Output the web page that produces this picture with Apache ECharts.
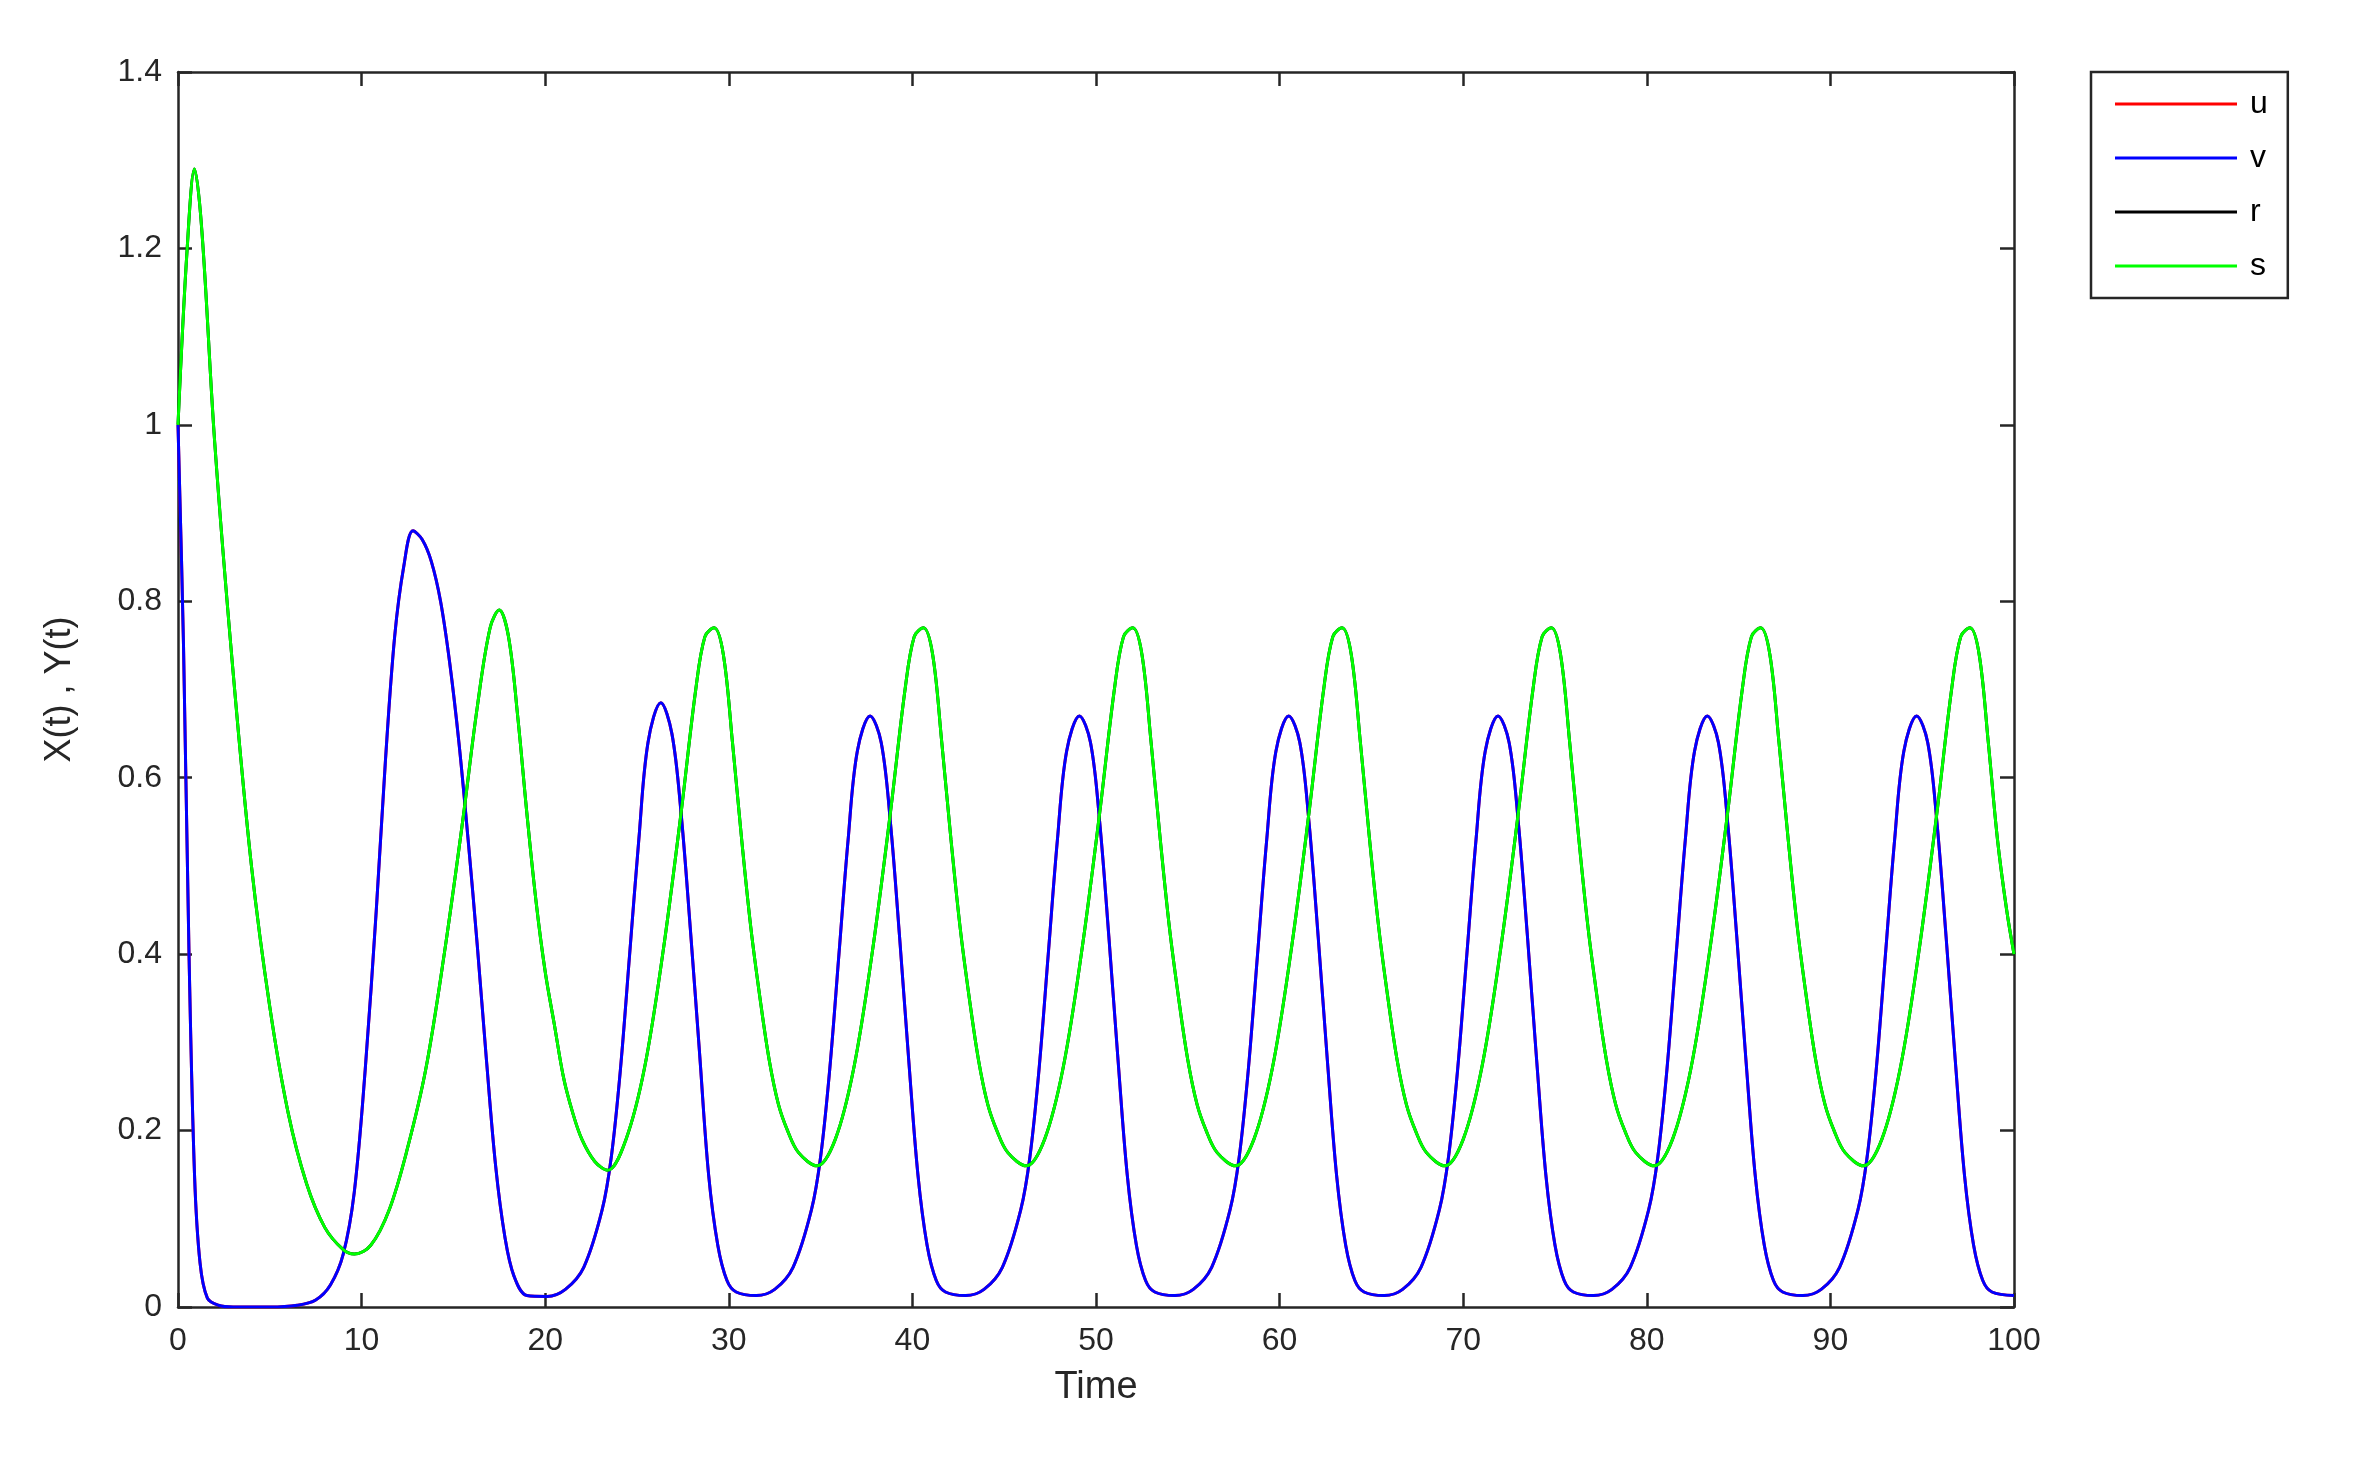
<!DOCTYPE html>
<html>
<head>
<meta charset="utf-8">
<script src="https://cdn.jsdelivr.net/npm/echarts@6/dist/echarts.min.js"></script>
<style>html,body{margin:0;background:#fff}#chart{width:2361px;height:1476px}</style>
</head>
<body>
<div id="chart"></div>
<script>
// values
const vTime = [0,0.3,0.6,0.9,1.2,1.6,2.2,3,5,6.5,7.5,8.3,9,9.6,10.2,10.8,11.3,11.8,12.3,12.8,13.3,13.8,14.3,14.8,15.3,15.8,16.3,16.8,17.3,17.8,18.3,19,
    20.1,21.1,22.1,23.1,23.6,24.1,24.6,25.1,25.6,26.3,26.9,27.4,27.9,28.4,28.9,29.4,29.9,30.4,
    31.5,32.5,33.5,34.5,35,35.5,36,36.5,37,37.7,38.3,38.8,39.3,39.8,40.3,40.8,41.3,41.8,
    42.9,43.9,44.9,45.9,46.4,46.9,47.4,47.9,48.4,49.1,49.7,50.2,50.7,51.2,51.7,52.2,52.7,53.2,
    54.3,55.3,56.3,57.3,57.8,58.3,58.8,59.3,59.8,60.5,61.1,61.6,62.1,62.6,63.1,63.6,64.1,64.6,
    65.7,66.7,67.7,68.7,69.2,69.7,70.2,70.7,71.2,71.9,72.5,73,73.5,74,74.5,75,75.5,76,
    77.1,78.1,79.1,80.1,80.6,81.1,81.6,82.1,82.6,83.3,83.9,84.4,84.9,85.4,85.9,86.4,86.9,87.4,
    88.5,89.5,90.5,91.5,92,92.5,93,93.5,94,94.7,95.3,95.8,96.3,96.8,97.3,97.8,98.3,98.8,100];
const vVals = [1.0,0.75,0.4,0.15,0.05,0.01,0.002,0,0,0.002,0.008,0.025,0.06,0.13,0.27,0.45,0.62,0.76,0.84,0.88,0.87,0.845,0.8,0.73,0.64,0.53,0.41,0.28,0.16,0.08,0.035,0.013,
    0.012,0.02,0.045,0.11,0.17,0.27,0.4,0.53,0.64,0.685,0.65,0.56,0.43,0.29,0.15,0.07,0.03,0.017,
    0.013,0.02,0.045,0.11,0.17,0.27,0.4,0.53,0.63,0.67,0.64,0.55,0.42,0.28,0.15,0.07,0.03,0.017,
    0.013,0.02,0.045,0.11,0.17,0.27,0.4,0.53,0.63,0.67,0.64,0.55,0.42,0.28,0.15,0.07,0.03,0.017,
    0.013,0.02,0.045,0.11,0.17,0.27,0.4,0.53,0.63,0.67,0.64,0.55,0.42,0.28,0.15,0.07,0.03,0.017,
    0.013,0.02,0.045,0.11,0.17,0.27,0.4,0.53,0.63,0.67,0.64,0.55,0.42,0.28,0.15,0.07,0.03,0.017,
    0.013,0.02,0.045,0.11,0.17,0.27,0.4,0.53,0.63,0.67,0.64,0.55,0.42,0.28,0.15,0.07,0.03,0.017,
    0.013,0.02,0.045,0.11,0.17,0.27,0.4,0.53,0.63,0.67,0.64,0.55,0.42,0.28,0.15,0.07,0.03,0.017,0.013];
const sTime = [0,0.5,0.9,1.3,2,3,4,5,6,7,8,9,9.6,10.5,11.5,12.5,13.5,14.5,15.5,16.3,17,17.5,18,18.5,19,19.5,20,20.5,21,21.5,22,22.7,
    23.4,24.4,25.4,26.4,27.4,28.2,28.7,29.2,29.7,30.2,30.7,31.2,31.7,32.2,32.7,33.2,33.8,
    34.8,35.8,36.8,37.8,38.8,39.6,40.1,40.6,41.1,41.6,42.1,42.6,43.1,43.6,44.1,44.6,45.2,
    46.2,47.2,48.2,49.2,50.2,51,51.5,52,52.5,53,53.5,54,54.5,55,55.5,56,56.6,
    57.6,58.6,59.6,60.6,61.6,62.4,62.9,63.4,63.9,64.4,64.9,65.4,65.9,66.4,66.9,67.4,68,
    69,70,71,72,73,73.8,74.3,74.8,75.3,75.8,76.3,76.8,77.3,77.8,78.3,78.8,79.4,
    80.4,81.4,82.4,83.4,84.4,85.2,85.7,86.2,86.7,87.2,87.7,88.2,88.7,89.2,89.7,90.2,90.8,
    91.8,92.8,93.8,94.8,95.8,96.6,97.1,97.6,98.1,98.6,99.1,99.6,100];
const sVals = [1.0,1.2,1.29,1.22,0.98,0.72,0.5,0.34,0.22,0.14,0.09,0.065,0.06,0.07,0.11,0.18,0.27,0.4,0.55,0.68,0.77,0.79,0.76,0.67,0.56,0.46,0.38,0.32,0.26,0.22,0.19,0.165,
    0.155,0.19,0.27,0.4,0.56,0.7,0.76,0.77,0.74,0.64,0.53,0.43,0.35,0.28,0.23,0.2,0.175,
    0.16,0.19,0.27,0.4,0.56,0.7,0.76,0.77,0.74,0.64,0.53,0.43,0.35,0.28,0.23,0.2,0.175,
    0.16,0.19,0.27,0.4,0.56,0.7,0.76,0.77,0.74,0.64,0.53,0.43,0.35,0.28,0.23,0.2,0.175,
    0.16,0.19,0.27,0.4,0.56,0.7,0.76,0.77,0.74,0.64,0.53,0.43,0.35,0.28,0.23,0.2,0.175,
    0.16,0.19,0.27,0.4,0.56,0.7,0.76,0.77,0.74,0.64,0.53,0.43,0.35,0.28,0.23,0.2,0.175,
    0.16,0.19,0.27,0.4,0.56,0.7,0.76,0.77,0.74,0.64,0.53,0.43,0.35,0.28,0.23,0.2,0.175,
    0.16,0.19,0.27,0.4,0.56,0.7,0.76,0.77,0.74,0.64,0.53,0.45,0.4];
const seriesNames = ['u', 'v', 'r', 's'];
const seriesColors = ['#ff0000', '#0000ff', '#000000', '#00ff00'];

const pairs = (t, y) => t.map((x, i) => [x, y[i]]);
// u lies under v and r lies under s in the picture
const seriesData = [pairs(vTime, vVals), pairs(vTime, vVals), pairs(sTime, sVals), pairs(sTime, sVals)];

const font = 'Liberation Sans';
const boxAxis = {
    axisLine: { show: true, onZero: false, lineStyle: { color: '#262626', width: 2.5 } },
    axisTick: { show: true, inside: true, length: 14, lineStyle: { color: '#262626', width: 2.5 } },
    splitLine: { show: false },
};

const myChart = echarts.init(document.getElementById('chart'));
const option = {
    animation: false,
    textStyle: { fontFamily: font },
    color: seriesColors,
    grid: { left: 178, right: 347, top: 72, bottom: 169 },
    legend: {
        orient: 'vertical',
        left: 2091,
        top: 72,
        width: 205,
        padding: [16, 20, 16, 24],
        itemGap: 22,
        itemWidth: 122,
        itemHeight: 3,
        icon: 'rect',
        borderColor: '#262626',
        borderWidth: 2.5,
        textStyle: { fontSize: 32, color: '#000', fontFamily: font, padding: [0, 0, 0, 8] },
        data: seriesNames,
    },
    xAxis: [
        Object.assign({
            type: 'value', min: 0, max: 100, interval: 10, position: 'bottom',
            name: 'Time', nameLocation: 'middle', nameGap: 62,
            nameTextStyle: { fontSize: 38, color: '#262626' },
            axisLabel: { fontSize: 32, color: '#262626', margin: 18 },
        }, boxAxis),
        Object.assign({
            type: 'value', min: 0, max: 100, interval: 10, position: 'top',
            axisLabel: { show: false },
        }, boxAxis),
    ],
    yAxis: [
        Object.assign({
            type: 'value', min: 0, max: 1.4, interval: 0.2, position: 'left',
            name: 'X(t) , Y(t)', nameLocation: 'middle', nameGap: 100,
            nameTextStyle: { fontSize: 36, color: '#262626' },
            axisLabel: { fontSize: 32, color: '#262626', margin: 16,
                formatter: v => String(Math.round(v * 10) / 10) },
        }, boxAxis),
        Object.assign({
            type: 'value', min: 0, max: 1.4, interval: 0.2, position: 'right',
            axisLabel: { show: false },
        }, boxAxis),
    ],
    series: seriesNames.map((name, i) => ({
        name: name,
        type: 'line',
        data: seriesData[i],
        showSymbol: false,
        smooth: 0.35,
        lineStyle: { width: 3, color: seriesColors[i] },
    })),
};
myChart.setOption(option);
window.addEventListener('resize', myChart.resize);
</script>
</body>
</html>
